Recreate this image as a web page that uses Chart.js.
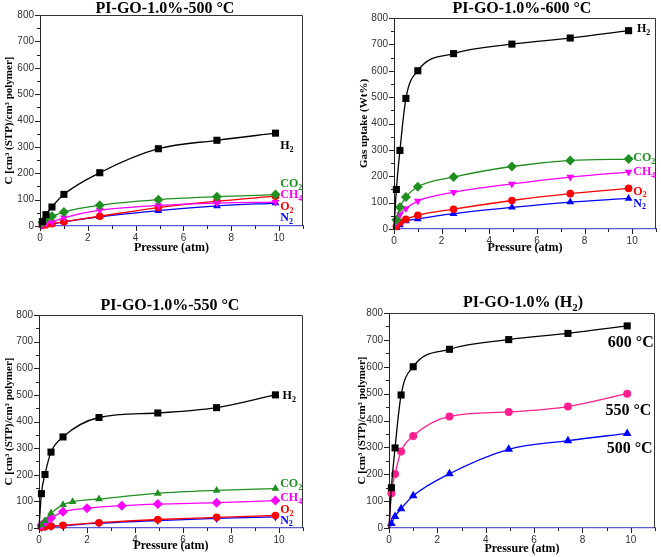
<!DOCTYPE html>
<html>
<head>
<meta charset="utf-8">
<script src="https://cdn.jsdelivr.net/npm/chart.js@4.4.0/dist/chart.umd.min.js"></script>
<style>
  body { margin: 0; background: #fff; }
  #wrap { position: relative; width: 661px; height: 557px; overflow: hidden; }
  canvas { position: absolute; }
</style>
</head>
<body>
<div id="wrap">
  <canvas id="c500" width="330" height="278" style="left:0;top:0"></canvas>
  <canvas id="c600" width="331" height="278" style="left:330px;top:0"></canvas>
  <canvas id="c550" width="330" height="279" style="left:0;top:278px"></canvas>
  <canvas id="cH2" width="331" height="279" style="left:330px;top:278px"></canvas>
</div>
<script>
// pressure points (atm)
const pressure = [0, 0.1, 0.25, 0.5, 1, 2.5, 4.95, 7.4, 9.85];
const pressureCO2_550 = [0, 0.1, 0.25, 0.5, 1, 1.4, 2.5, 4.95, 7.4, 9.85];
const pressureCH4_550 = [0, 0.1, 0.25, 0.5, 1, 2, 3.45, 4.95, 7.4, 9.85];

// 500 C
const h2_500  = [0, 17, 43, 72, 120, 202, 293, 325, 352];
const co2_500 = [0, 14, 28, 37, 53, 79, 100, 111, 119];
const ch4_500 = [0, 5, 10, 15, 31, 60, 78, 87, 90];
const o2_500  = [0, 2, 5, 9, 16, 37, 70, 94, 113];
const n2_500  = [0, 2, 5, 8, 16, 35, 58, 76, 87];

// 600 C
const h2_600  = [0, 150, 298, 495, 600, 665, 701, 724, 752];
const co2_600 = [0, 35, 82, 121, 160, 197, 237, 260, 265];
const ch4_600 = [0, 25, 55, 78, 106, 139, 171, 197, 216];
const o2_600  = [0, 10, 25, 37, 52, 75, 108, 134, 154];
const n2_600  = [0, 5, 15, 30, 38, 58, 82, 102, 116];

// 550 C
const h2_550  = [0, 129, 201, 285, 342, 415, 432, 452, 500];
const co2_550 = [0, 11, 27, 56, 87, 99, 109, 130, 141, 148];
const ch4_550 = [0, 10, 22, 38, 61, 74, 84, 90, 95, 103];
const o2_550  = [0, 3, 5, 7, 10, 20, 32, 40, 47];
const n2_550  = [0, 2, 4, 6, 9, 18, 28, 36, 42];

const xTicks = [0, 2, 4, 6, 8, 10];
const yTicks = [0, 100, 200, 300, 400, 500, 600, 700, 800];

const GREEN = '#1f8f1f', MAGENTA = '#ff00ff', RED = '#ff0000', BLUE = '#0000ff', PINK = '#ff1f8f';
const SERIF = '"Liberation Serif", "Times New Roman", serif';
const SANS = '"Liberation Sans", Arial, sans-serif';

function pts(xs, ys) {
  return xs.map((x, i) => ({ x: x, y: ys[i] }));
}

function series(label, xs, ys, color, style, r, rot) {
  return {
    label: label,
    data: pts(xs, ys),
    borderColor: color,
    backgroundColor: color,
    borderWidth: 1.3,
    pointStyle: style,
    rotation: rot || 0,
    pointRadius: xs.map(x => x === 0 ? 0 : r),
    pointBorderWidth: 0,
    cubicInterpolationMode: 'monotone',
    clip: false
  };
}

// text with "_2" style subscripts
function richText(ctx, text, x, y, size, color, align) {
  const pieces = text.split(/_(\d)/);
  const big = 'bold ' + size + 'px ' + SERIF;
  const small = 'bold ' + Math.round(size * 0.68) + 'px ' + SERIF;
  let w = 0;
  pieces.forEach((p, i) => { ctx.font = i % 2 ? small : big; w += ctx.measureText(p).width; });
  let cx = align === 'center' ? x - w / 2 : x;
  ctx.fillStyle = color;
  ctx.textAlign = 'left';
  ctx.textBaseline = 'middle';
  pieces.forEach((p, i) => {
    ctx.font = i % 2 ? small : big;
    ctx.fillText(p, cx, i % 2 ? y + size * 0.3 : y);
    cx += ctx.measureText(p).width;
  });
}

const decor = {
  id: 'decor',
  afterDraw(chart, args, opts) {
    const { ctx, chartArea: a, scales: { x, y } } = chart;
    ctx.save();
    ctx.strokeStyle = '#333';
    ctx.lineWidth = 1;
    ctx.beginPath();
    ctx.moveTo(a.left, a.top + 0.5);
    ctx.lineTo(a.right - 0.5, a.top + 0.5);
    ctx.lineTo(a.right - 0.5, a.bottom);
    ctx.stroke();
    ctx.strokeStyle = '#222';
    ctx.beginPath();
    for (let v = 0; v <= 800; v += 50) {
      const py = Math.round(y.getPixelForValue(v)) + 0.5;
      const len = v % 100 ? 3 : 5;
      ctx.moveTo(a.left - len, py);
      ctx.lineTo(a.left, py);
    }
    for (let v = 0; v <= 11; v += 1) {
      const px = Math.round(x.getPixelForValue(v)) + 0.5;
      const len = v % 2 ? 3 : 5;
      ctx.moveTo(px, a.bottom);
      ctx.lineTo(px, a.bottom + len);
    }
    ctx.stroke();
    richText(ctx, opts.title, opts.titleX, opts.titleY, 16, '#000', 'center');
    (opts.notes || []).forEach(n => {
      richText(ctx, n.text, x.getPixelForValue(n.x), y.getPixelForValue(n.y), n.size || 12, n.color, 'left');
    });
    ctx.restore();
  }
};

function makeChart(id, datasets, p) {
  new Chart(document.getElementById(id), {
    type: 'line',
    data: { datasets: datasets },
    plugins: [decor],
    options: {
      responsive: false,
      animation: false,
      layout: { padding: { left: p.padL, right: p.padR, top: p.padT, bottom: p.padB } },
      plugins: {
        legend: { display: false },
        tooltip: { enabled: false },
        decor: { title: p.title, titleX: p.titleX, titleY: p.titleY, notes: p.notes }
      },
      scales: {
        x: {
          type: 'linear',
          min: 0,
          max: 11,
          afterBuildTicks: s => { s.ticks = xTicks.map(v => ({ value: v })); },
          afterFit: s => { s.height = p.xH; },
          grid: { display: false, drawTicks: false },
          border: { color: '#5a5ad2', width: 1.2 },
          ticks: { padding: 6, color: '#333', font: { family: SANS, size: 10 } },
          title: { display: true, text: 'Pressure (atm)', padding: 0, color: '#000',
                   font: { family: SERIF, size: 12, weight: 'bold' } }
        },
        y: {
          min: 0,
          max: 800,
          afterBuildTicks: s => { s.ticks = yTicks.map(v => ({ value: v })); },
          afterFit: s => { s.width = p.yW; },
          grid: { display: false, drawTicks: false },
          border: { color: '#222', width: 1 },
          ticks: { padding: 6, color: '#333', font: { family: SANS, size: 10 } },
          title: { display: true, text: p.yTitle, padding: 0, color: '#000',
                   font: { family: SERIF, size: 11, weight: 'bold' } }
        }
      }
    }
  });
}

const yTitleC = 'C [cm³ (STP)/cm³ polymer]';

makeChart('c500', [
  series('H2', pressure, h2_500, '#000', 'rect', 5),
  series('CO2', pressure, co2_500, GREEN, 'rectRot', 5),
  series('CH4', pressure, ch4_500, MAGENTA, 'triangle', 4.5, 180),
  series('O2', pressure, o2_500, RED, 'circle', 3.8),
  series('N2', pressure, n2_500, BLUE, 'triangle', 4.5)
], {
  padL: 3, padR: 27, padT: 15, padB: 23, yW: 37, xH: 29,
  yTitle: yTitleC, title: 'PI-GO-1.0%-500 °C', titleX: 165, titleY: 9,
  notes: [
    { text: 'H_2', x: 10.05, y: 303, color: '#000' },
    { text: 'CO_2', x: 10.05, y: 159, color: GREEN },
    { text: 'CH_4', x: 10.05, y: 118, color: MAGENTA },
    { text: 'O_2', x: 10.05, y: 72, color: RED },
    { text: 'N_2', x: 10.05, y: 30, color: BLUE }
  ]
});

makeChart('c600', [
  series('H2', pressure, h2_600, '#000', 'rect', 5),
  series('CO2', pressure, co2_600, GREEN, 'rectRot', 5),
  series('CH4', pressure, ch4_600, MAGENTA, 'triangle', 4.5, 180),
  series('O2', pressure, o2_600, RED, 'circle', 3.8),
  series('N2', pressure, n2_600, BLUE, 'triangle', 4.5)
], {
  padL: 28, padR: 5, padT: 18, padB: 23, yW: 36, xH: 26,
  yTitle: 'Gas uptake (Wt%)', title: 'PI-GO-1.0%-600 °C', titleX: 192, titleY: 9,
  notes: [
    { text: 'H_2', x: 10.2, y: 758, color: '#000' },
    { text: 'CO_2', x: 10.05, y: 269, color: GREEN },
    { text: 'CH_4', x: 10.05, y: 216, color: MAGENTA },
    { text: 'O_2', x: 10.05, y: 141, color: RED },
    { text: 'N_2', x: 10.05, y: 97, color: BLUE }
  ]
});

makeChart('c550', [
  series('H2', pressure, h2_550, '#000', 'rect', 5),
  series('CO2', pressureCO2_550, co2_550, GREEN, 'triangle', 4.5),
  series('CH4', pressureCH4_550, ch4_550, MAGENTA, 'rectRot', 5),
  series('O2', pressure, o2_550, RED, 'circle', 3.8),
  series('N2', pressure, n2_550, BLUE, 'triangle', 4.5, 180)
], {
  padL: 3, padR: 27, padT: 37, padB: 4, yW: 36, xH: 25,
  yTitle: yTitleC, title: 'PI-GO-1.0%-550 °C', titleX: 170, titleY: 28,
  notes: [
    { text: 'H_2', x: 10.15, y: 496, color: '#000' },
    { text: 'CO_2', x: 10.05, y: 165, color: GREEN },
    { text: 'CH_4', x: 10.05, y: 113, color: MAGENTA },
    { text: 'O_2', x: 10.05, y: 68, color: RED },
    { text: 'N_2', x: 10.05, y: 27, color: BLUE }
  ]
});

makeChart('cH2', [
  series('600', pressure, h2_600, '#000', 'rect', 5),
  series('550', pressure, h2_550, PINK, 'circle', 4),
  series('500', pressure, h2_500, BLUE, 'triangle', 5)
], {
  padL: 26, padR: 6, padT: 35, padB: 1, yW: 33, xH: 28,
  yTitle: yTitleC, title: 'PI-GO-1.0% (H_2)', titleX: 193, titleY: 25,
  notes: [
    { text: '600 °C', x: 9.05, y: 690, color: '#000', size: 16 },
    { text: '550 °C', x: 8.95, y: 435, color: '#000', size: 16 },
    { text: '500 °C', x: 9.0, y: 294, color: '#000', size: 16 }
  ]
});
</script>
</body>
</html>
